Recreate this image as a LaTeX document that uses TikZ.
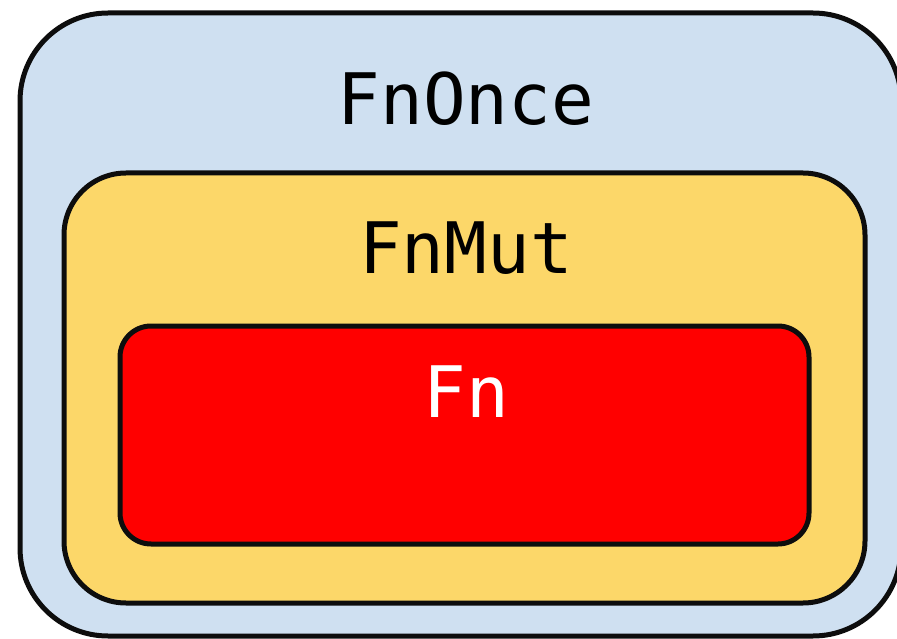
\documentclass[tikz,border=0pt]{standalone}
\usepackage{fontspec}
\setmonofont{DejaVu Sans Mono}
\definecolor{onceblue}{HTML}{CFE0F1}
\definecolor{mutyellow}{HTML}{FCD769}
\definecolor{fnred}{HTML}{FF0000}
\usepackage{tikz}
\usetikzlibrary{calc}
\tikzset{
	traitbox/.style={draw=black!95, line width=5pt},
	traitname/.style={anchor=base, inner sep=0pt, font=\ttfamily\fontsize{71}{80}\selectfont}
}

\begin{document}
\begin{tikzpicture}[x=1pt,y=-1pt]
	\useasboundingbox (0,0) rectangle (897,639);
	%outer, middle and inner trait
	\filldraw[traitbox, fill=onceblue, rounded corners=88pt] (20,13) rectangle (901,636);
	\filldraw[traitbox, fill=mutyellow, rounded corners=62pt] (64,173) rectangle (865,603);
	\filldraw[traitbox, fill=fnred, rounded corners=31pt] (120,326) rectangle (809,544);
	\node[traitname] (fnonce) at (466,125) {FnOnce};
	\node[traitname] (fnmut) at (466,273) {FnMut};
	\node[traitname, text=white] (fn) at (466,417) {Fn};
\end{tikzpicture}
\end{document}
